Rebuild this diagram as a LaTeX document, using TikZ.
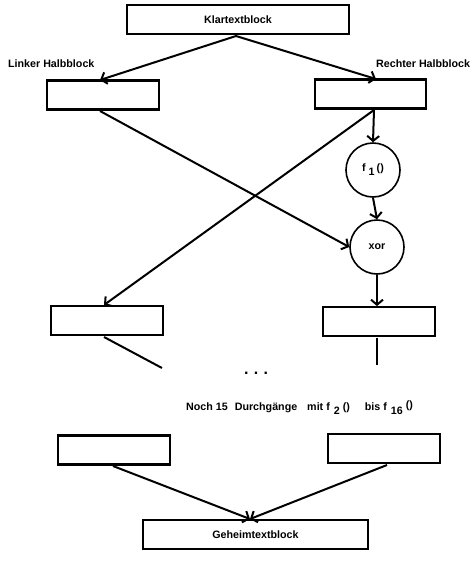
\documentclass[tikz,border=0pt]{standalone}
\usepackage{fontspec}
\setmainfont{Liberation Sans}
\usetikzlibrary{arrows.meta}
\begin{document}
\begin{tikzpicture}[x=1pt,y=-1pt,
  blk/.style={draw,line width=2.2pt,minimum height=29pt,inner sep=0pt,font=\bfseries\fontsize{10.7}{12}\selectfont},
  circ/.style={draw,line width=1.6pt,circle,minimum size=54pt,inner sep=0pt,font=\bfseries\fontsize{10.7}{12}\selectfont},
  lbl/.style={font=\bfseries\fontsize{10.7}{12}\selectfont,inner sep=0pt},
  conn/.style={line width=2pt},
  arr/.style={conn,-{Straight Barb[length=5pt,width=12pt,line width=2pt]}}]
\useasboundingbox (0,0) rectangle (476,563);
% boxes
\node[blk,minimum width=222pt] (klar) at (238,19.5) {Klartextblock};
\node[blk,minimum width=112pt] (L1) at (103,95) {};
\node[blk,minimum width=111pt] (R1) at (370.5,94) {};
\node[lbl,anchor=west] (llab) at (8,64) {Linker Halbblock};
\node[lbl,anchor=west] (rlab) at (376,64) {Rechter Halbblock};
\node[circ] (f1) at (373,170) {f\hspace{3pt}\raisebox{-4pt}{1}\hspace{2pt}()};
\node[circ] (xor) at (377,247) {xor};
\node[blk,minimum width=112pt] (L2) at (107,320.5) {};
\node[blk,minimum width=112pt] (R2) at (379,321.5) {};
\node[lbl,font=\bfseries\fontsize{16}{16}\selectfont] (dots) at (256,373) {.\,\,.\,\,.};
\node[lbl,anchor=west] (txt) at (186,408) {Noch 15\hspace{7pt}Durchgänge\hspace{10pt}mit f\hspace{4pt}\raisebox{-4pt}{2}\hspace{3pt}()\hspace{15pt}bis f\hspace{4pt}\raisebox{-4pt}{16}\hspace{3pt}\raisebox{2pt}{()}};
\node[blk,minimum width=112pt] (L3) at (114,450) {};
\node[blk,minimum width=112pt] (R3) at (384,448.5) {};
\node[blk,minimum width=225pt] (geh) at (255.5,534.5) {Geheimtextblock};
% coordinates
\coordinate (kb) at (236,36);
\coordinate (L1t) at (100,80);
\coordinate (R1t) at (376,79);
\coordinate (L1b) at (100,111);
\coordinate (R1b) at (374,110);
\coordinate (L2t) at (104,305);
\coordinate (R2t) at (377,306);
\coordinate (L2b) at (104,337);
\coordinate (L2e) at (162,368);
\coordinate (R2b) at (377,338);
\coordinate (R2e) at (377,365);
\coordinate (L3b) at (113,466);
\coordinate (R3b) at (387,465);
\coordinate (gt) at (250,519);
% connectors
\draw[arr] (kb) -- (L1t);
\draw[arr] (kb) -- (R1t);
\draw[arr] (L1b) -- (xor.west);
\draw[arr] (R1b) -- (L2t);
\draw[arr] (R1b) -- (f1.north);
\draw[arr] (f1.south) -- (xor.north);
\draw[arr] (xor.south) -- (R2t);
\draw[conn] (L2b) -- (L2e);
\draw[conn] (R2b) -- (R2e);
\draw[arr] (L3b) -- (gt);
\draw[arr] (R3b) -- (gt);
\end{tikzpicture}
\end{document}
